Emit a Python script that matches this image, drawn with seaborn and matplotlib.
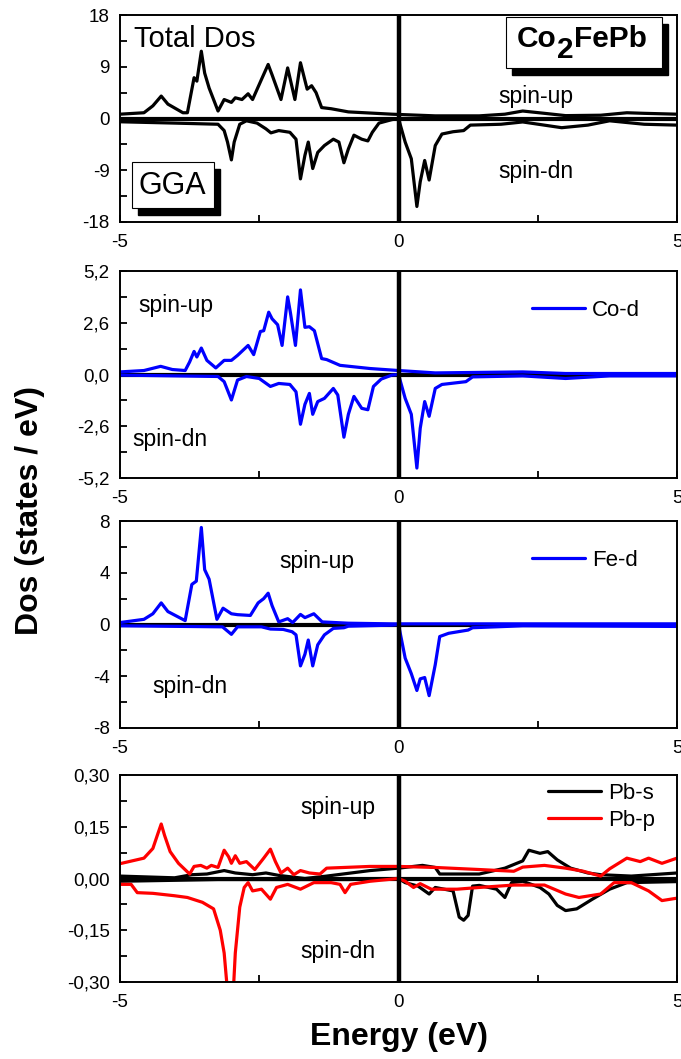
import matplotlib
matplotlib.use('Agg')
import matplotlib.pyplot as plt
import seaborn as sns
import pandas as pd
from matplotlib.patches import Rectangle
from matplotlib.ticker import FixedLocator, FuncFormatter

# ---------- dados ----------
# Total DOS
e_tot_up = [-5, -4.57, -4.41, -4.26, -4.14, -3.87, -3.79, -3.67, -3.62, -3.54, -3.48, -3.40, -3.24,
            -3.13, -3.0, -2.93, -2.81, -2.70, -2.62, -2.46, -2.34, -2.27, -2.11, -1.99, -1.86,
            -1.76, -1.64, -1.56, -1.48, -1.38, -1.21, -0.9, -0.12, 0.66, 1.45, 1.91, 2.23, 2.62,
            3.0, 3.63, 4.1, 4.41, 5.0]
tot_up = [0.75, 1.0, 2.2, 3.9, 2.5, 1.0, 1.0, 7.1, 6.5, 11.7, 7.9, 5.3, 1.3,
          3.3, 2.8, 3.6, 3.3, 4.3, 3.3, 6.8, 9.4, 7.6, 3.3, 8.8, 3.3,
          9.7, 5.1, 5.7, 4.5, 1.9, 1.7, 1.15, 0.75, 0.46, 0.46, 0.75, 1.3, 0.9,
          0.5, 0.57, 1.0, 0.9, 0.75]
e_tot_dn = [-5, -4.02, -3.24, -3.13, -3.07, -3.0, -2.95, -2.85, -2.73, -2.54, -2.38, -2.29, -2.15,
            -1.95, -1.84, -1.76, -1.68, -1.62, -1.54, -1.45, -1.33, -1.17, -1.07, -0.98, -0.9,
            -0.80, -0.66, -0.55, -0.47, -0.35, -0.12, 0.0, 0.12, 0.23, 0.33, 0.39, 0.47, 0.55,
            0.66, 0.78, 0.98, 1.17, 1.29, 1.84, 2.23, 2.93, 3.4, 3.79, 4.41, 5.0]
tot_dn = [-0.57, -0.8, -1.0, -2.1, -4.1, -7.2, -4.1, -1.0, -0.4, -0.8, -1.8, -2.5, -2.1,
          -2.4, -3.6, -10.5, -6.4, -4.1, -8.7, -5.9, -4.7, -3.6, -4.1, -7.7, -5.3,
          -2.9, -3.6, -3.9, -2.4, -0.8, -0.2, 0.0, -4.1, -7.0, -15.3, -11.0, -7.3, -10.7,
          -4.7, -2.7, -2.3, -2.1, -1.15, -1.0, -0.6, -1.6, -1.15, -0.4, -1.0, -1.15]

# Co-d
e_co_up = [-5, -4.57, -4.27, -4.06, -3.83, -3.75, -3.67, -3.62, -3.54, -3.44, -3.28, -3.13, -3.0,
           -2.89, -2.70, -2.60, -2.48, -2.42, -2.33, -2.27, -2.17, -2.09, -1.99, -1.94, -1.85,
           -1.76, -1.68, -1.60, -1.51, -1.38, -1.29, -1.05, -0.51, 0.0, 0.66, 2.23, 3.0, 5.0]
co_up = [0.13, 0.2, 0.41, 0.25, 0.2, 0.63, 1.16, 0.88, 1.33, 0.71, 0.33, 0.71, 0.71,
         0.96, 1.46, 1.0, 2.16, 2.2, 3.13, 2.8, 2.5, 1.46, 3.9, 3.1, 1.46,
         4.25, 2.37, 2.4, 2.2, 0.8, 0.75, 0.46, 0.3, 0.2, 0.08, 0.13, 0.05, 0.05]
e_co_dn = [-5, -3.24, -3.13, -3.0, -2.89, -2.73, -2.5, -2.30, -2.15, -1.95, -1.84, -1.76, -1.68,
           -1.60, -1.54, -1.45, -1.33, -1.17, -1.09, -0.98, -0.9, -0.80, -0.66, -0.55, -0.45,
           -0.31, -0.12, 0.0, 0.12, 0.23, 0.33, 0.39, 0.47, 0.55, 0.66, 0.78, 1.21, 1.33,
           2.23, 3.0, 3.79, 5.0]
co_dn = [-0.03, -0.1, -0.36, -1.28, -0.28, -0.1, -0.2, -0.6, -0.45, -0.5, -0.87, -2.5, -1.5,
         -0.95, -2.0, -1.36, -1.2, -0.7, -1.03, -3.15, -2.0, -1.1, -1.7, -1.77, -0.6,
         -0.23, -0.03, 0.0, -1.2, -2.0, -4.7, -2.7, -1.36, -2.1, -0.7, -0.5, -0.36, -0.12,
         -0.07, -0.2, -0.07, -0.07]

# Fe-d
e_fe_up = [-5, -4.57, -4.41, -4.26, -4.14, -3.83, -3.71, -3.63, -3.54, -3.48, -3.40, -3.26, -3.15,
           -3.0, -2.89, -2.66, -2.52, -2.42, -2.34, -2.27, -2.15, -1.99, -1.90, -1.76, -1.68,
           -1.52, -1.37, -0.9, -0.12, 2.0, 5.0]
fe_up = [0.15, 0.4, 0.83, 1.67, 1.0, 0.3, 3.1, 3.35, 7.5, 4.24, 3.5, 0.4, 1.26,
         0.83, 0.76, 0.7, 1.67, 2.0, 2.42, 1.46, 0.2, 0.45, 0.15, 0.78, 0.53,
         0.83, 0.2, 0.1, 0.05, 0.05, 0.05]
e_fe_dn = [-5, -3.16, -3.0, -2.89, -2.46, -2.30, -2.07, -1.91, -1.84, -1.76, -1.68, -1.62, -1.54,
           -1.45, -1.33, -1.17, -0.98, -0.9, -0.12, 0.0, 0.12, 0.23, 0.33, 0.39, 0.47, 0.55,
           0.66, 0.74, 0.9, 1.25, 1.33, 2.23, 5.0]
fe_dn = [-0.1, -0.18, -0.76, -0.18, -0.18, -0.35, -0.38, -0.56, -0.8, -3.2, -2.3, -1.2, -3.2,
         -1.57, -0.8, -0.3, -0.25, -0.13, -0.05, 0.0, -2.6, -3.8, -5.1, -4.2, -4.1, -5.5,
         -3.1, -0.93, -0.68, -0.43, -0.25, -0.1, -0.15]

# Pb-p
e_pbp_up = [-5, -4.57, -4.41, -4.32, -4.26, -4.2, -4.1, -3.95, -3.75, -3.67, -3.55, -3.44, -3.36,
            -3.24, -3.13, -3.05, -3.0, -2.93, -2.85, -2.73, -2.58, -2.42, -2.30, -2.21, -2.11,
            -1.99, -1.88, -1.76, -1.60, -1.41, -1.29, -0.51, 0.0, 0.66, 1.45, 2.07, 2.23, 2.62,
            3.0, 3.32, 3.63, 3.79, 4.1, 4.34, 4.49, 4.73, 5.0]
pbp_up = [0.043, 0.059, 0.087, 0.13, 0.158, 0.125, 0.078, 0.044, 0.013, 0.035, 0.038, 0.03, 0.038,
          0.032, 0.082, 0.063, 0.044, 0.066, 0.044, 0.049, 0.026, 0.059, 0.085, 0.049, 0.016,
          0.03, 0.011, 0.023, 0.016, 0.013, 0.03, 0.035, 0.035, 0.032, 0.026, 0.021, 0.033, 0.038,
          0.03, 0.021, 0.007, 0.028, 0.059, 0.049, 0.059, 0.044, 0.059]
e_pbp_dn = [-5, -4.8, -4.69, -4.41, -4.02, -3.79, -3.52, -3.32, -3.2, -3.13, -3.09, -3.06, -2.97,
            -2.93, -2.85, -2.77, -2.70, -2.62, -2.46, -2.30, -2.19, -1.99, -1.76, -1.52, -1.21,
            -1.05, -0.96, -0.86, -0.51, 0.0, 0.12, 0.27, 0.39, 0.59, 1.05, 1.45, 2.07, 2.62,
            3.0, 3.24, 3.63, 3.87, 4.18, 4.49, 4.73, 5.0]
pbp_dn = [-0.017, -0.017, -0.041, -0.043, -0.05, -0.055, -0.069, -0.088, -0.15, -0.216, -0.29, -0.34, -0.34,
          -0.216, -0.083, -0.026, -0.012, -0.036, -0.031, -0.06, -0.026, -0.017, -0.031, -0.012, -0.012,
          -0.017, -0.041, -0.017, -0.008, 0.0, -0.008, -0.026, -0.015, -0.031, -0.031, -0.026, -0.019, -0.019,
          -0.045, -0.055, -0.045, -0.012, -0.012, -0.036, -0.064, -0.057]

# Pb-s
e_pbs_up = [-5, -4.02, -3.71, -3.44, -3.13, -2.93, -2.62, -2.38, -2.15, -1.68, -1.29, -0.51, 0.0,
            0.43, 0.66, 0.74, 1.45, 1.91, 2.23, 2.34, 2.54, 2.68, 2.85, 3.09, 3.4, 3.63, 4.18, 5.0]
pbs_up = [0.007, 0.002, 0.011, 0.013, 0.023, 0.016, 0.011, 0.016, 0.009, 0.0, 0.007, 0.023, 0.03,
          0.038, 0.032, 0.013, 0.013, 0.03, 0.051, 0.082, 0.073, 0.078, 0.054, 0.03, 0.016, 0.011, 0.007, 0.016]
e_pbs_dn = [-5, -3.24, -0.9, 0.0, 0.12, 0.35, 0.55, 0.66, 0.98, 1.09, 1.17, 1.25, 1.33, 1.45,
            1.76, 1.91, 2.03, 2.23, 2.54, 2.70, 2.85, 3.0, 3.2, 3.48, 3.79, 4.1, 5.0]
pbs_dn = [-0.008, -0.003, -0.003, 0.0, -0.012, -0.022, -0.045, -0.026, -0.036, -0.112, -0.121, -0.107,
          -0.022, -0.02, -0.031, -0.055, -0.012, -0.008, -0.026, -0.045, -0.078, -0.093, -0.088,
          -0.06, -0.031, -0.012, -0.009]

# ticks
yt_tot = [-18, -9, 0, 9, 18]
yt_co = [-5.2, -2.6, 0.0, 2.6, 5.2]
yt_fe = [-8, -4, 0, 4, 8]
yt_pb = [-0.30, -0.15, 0.0, 0.15, 0.30]
xt = [-5, 0, 5]

# ---------- estilo ----------
sns.set_theme(style='ticks')
plt.rcParams['font.family'] = ['Liberation Sans', 'DejaVu Sans']
plt.rcParams['axes.unicode_minus'] = False
for k in ['text.color', 'axes.labelcolor', 'xtick.color', 'ytick.color', 'axes.edgecolor']:
    plt.rcParams[k] = 'black'

fig = plt.figure(figsize=(6.81, 10.59), dpi=100)
W, H = 681, 1059
x0, x1 = 120, 677
tops = [15, 271, 521, 775]
hgt = 207

axes = []
for t in tops:
    ax = fig.add_axes([x0 / W, 1 - (t + hgt) / H, (x1 - x0) / W, hgt / H])
    axes.append(ax)

LW = 2.3
FS = 16.5   # spin-up / spin-dn
FL = 16     # legendas


def px(x, y):
    # pixel (topo-esquerda) -> fração da figura
    return x / W, 1 - y / H


def texto(x, y, s, **kw):
    fx, fy = px(x, y)
    kw.setdefault('fontsize', FS)
    kw.setdefault('va', 'baseline')
    fig.text(fx, fy, s, **kw)


def curva(ax, e, d, cor, label=None):
    df = pd.DataFrame({'E': e, 'D': d})
    sns.lineplot(data=df, x='E', y='D', ax=ax, color=cor, lw=LW, sort=False,
                 estimator=None, label=label, legend=False)


def fmt_dec(nd):
    def f(v, pos):
        s = f'{v:.{nd}f}'
        if s.startswith('-') and float(s) == 0:
            s = s[1:]
        return s.replace('.', ',')
    return FuncFormatter(f)


def base(ax, yt, nd):
    lim = yt[-1]
    ax.set_xlim(-5, 5)
    ax.set_ylim(-lim, lim)
    ax.axvline(0, color='black', lw=3.2, zorder=5)
    ax.axhline(0, color='black', lw=3.0, zorder=1)
    ax.set_xticks(xt)
    ax.set_yticks(yt)
    ax.xaxis.set_minor_locator(FixedLocator([-2.5, 2.5]))
    mins = [(yt[i] + yt[i + 1]) / 2 for i in range(len(yt) - 1)]
    ax.yaxis.set_minor_locator(FixedLocator(mins))
    ax.yaxis.set_major_formatter(fmt_dec(nd))
    ax.tick_params(which='both', direction='in', top=False, right=False,
                   length=5, width=1.3, labelsize=13.5)
    ax.tick_params(axis='y', pad=7.5)
    ax.tick_params(axis='x', pad=8.5)
    ax.set_xlabel('')
    ax.set_ylabel('')
    for s in ax.spines.values():
        s.set_linewidth(1.4)
        s.set_color('black')


def legenda(ax, x, y):
    h, l = ax.get_legend_handles_labels()
    ax.legend(h, l, loc='center left', bbox_to_anchor=px(x, y), bbox_transform=fig.transFigure,
              frameon=False, fontsize=FL, handlelength=2.4, handletextpad=0.3,
              labelspacing=0.25, borderpad=0, borderaxespad=0)


def caixa(ax, xa, ya, xb, yb, sombra=(6, 7)):
    fx0, fy1 = px(xa, ya)
    fx1, fy0 = px(xb, yb)
    sx, sy = sombra[0] / W, sombra[1] / H
    ax.add_patch(Rectangle((fx0 + sx, fy0 - sy), fx1 - fx0, fy1 - fy0, transform=fig.transFigure,
                           facecolor='black', edgecolor='black', zorder=6))
    ax.add_patch(Rectangle((fx0, fy0), fx1 - fx0, fy1 - fy0, transform=fig.transFigure,
                           facecolor='white', edgecolor='black', lw=0.8, zorder=7))


# painel 1 - Total DOS
ax = axes[0]
curva(ax, e_tot_up, tot_up, 'black')
curva(ax, e_tot_dn, tot_dn, 'black')
base(ax, yt_tot, 0)
texto(134, 47, 'Total Dos', fontsize=21)
texto(498, 103, 'spin-up')
texto(498, 178, 'spin-dn')
caixa(ax, 132, 162, 214, 208)
caixa(ax, 506, 17, 662, 68)
texto(172, 194, 'GGA', fontsize=22, ha='center', zorder=8)
# Co2FePb com o "2" em tamanho cheio e rebaixado, como no original
texto(517, 47, 'Co', fontsize=21.5, fontweight='bold', zorder=8)
texto(557, 58, '2', fontsize=21.5, fontweight='bold', zorder=8)
texto(574, 47, 'FePb', fontsize=21.5, fontweight='bold', zorder=8)

# painel 2 - Co-d
ax = axes[1]
curva(ax, e_co_up, co_up, '#0000ff', 'Co-d')
curva(ax, e_co_dn, co_dn, '#0000ff')
base(ax, yt_co, 1)
texto(138, 312, 'spin-up')
texto(132, 446, 'spin-dn')
legenda(ax, 532, 310)

# painel 3 - Fe-d
ax = axes[2]
curva(ax, e_fe_up, fe_up, '#0000ff', 'Fe-d')
curva(ax, e_fe_dn, fe_dn, '#0000ff')
base(ax, yt_fe, 0)
texto(279, 568, 'spin-up')
texto(152, 693, 'spin-dn')
legenda(ax, 532, 560)

# painel 4 - Pb-s / Pb-p
ax = axes[3]
curva(ax, e_pbs_up, pbs_up, 'black', 'Pb-s')
curva(ax, e_pbs_dn, pbs_dn, 'black')
curva(ax, e_pbp_up, pbp_up, '#ff0000', 'Pb-p')
curva(ax, e_pbp_dn, pbp_dn, '#ff0000')
base(ax, yt_pb, 2)
texto(300, 814, 'spin-up')
texto(300, 958, 'spin-dn')
legenda(ax, 548, 807)

fx, fy = px(30, 510)
fig.text(fx, fy, 'Dos (states / eV)', rotation=90, ha='center', va='center',
         fontsize=23, fontweight='bold')
fx, fy = px(399, 1037)
fig.text(fx, fy, 'Energy (eV)', ha='center', va='center', fontsize=23, fontweight='bold')

plt.savefig('out.png', dpi=100)
plt.close()
